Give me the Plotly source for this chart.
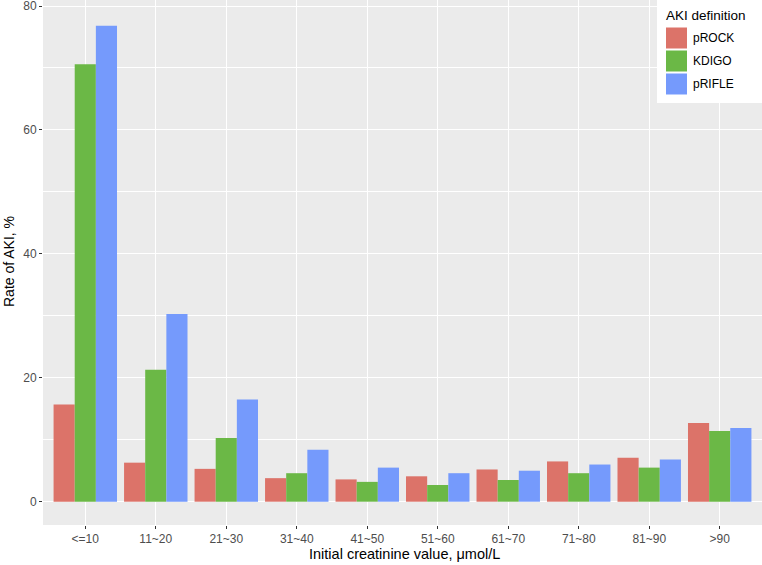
import plotly.graph_objects as go

categories = ["<=10", "11~20", "21~30", "31~40", "41~50", "51~60", "61~70", "71~80", "81~90", ">90"]
series_names = ["pROCK", "KDIGO", "pRIFLE"]
prock = [15.7, 6.3, 5.3, 3.8, 3.6, 4.1, 5.2, 6.5, 7.1, 12.7]
kdigo = [70.6, 21.3, 10.3, 4.6, 3.2, 2.7, 3.5, 4.6, 5.5, 11.4]
prifle = [76.8, 30.3, 16.5, 8.4, 5.5, 4.6, 5.0, 6.0, 6.8, 11.9]
colors = ["#DC7369", "#6BB846", "#759AFC"]
y_ticks = [0, 20, 40, 60, 80]

W, H = 762, 565
L, R, T, B = 43, 0, 0, 40
PW, PH = W - L - R, H - T - B

def px(x):
    return (x - L) / PW

def py(y):
    return (H - B - y) / PH

FONT = "Liberation Sans, Arial, Helvetica, sans-serif"

fig = go.Figure()
for name, vals, c in zip(series_names, [prock, kdigo, prifle], colors):
    fig.add_trace(go.Bar(x=categories, y=vals, name=name, marker=dict(color=c, line=dict(width=0)),
                         showlegend=False))

fig.update_layout(
    width=W, height=H,
    margin=dict(l=L, r=R, t=T, b=B),
    paper_bgcolor="white",
    plot_bgcolor="#EBEBEB",
    barmode="group", bargap=0.1, bargroupgap=0,
    font=dict(family=FONT, color="#4D4D4D", size=12),
    xaxis=dict(range=[-0.6, 9.6], showgrid=True, gridcolor="white", gridwidth=1.1,
               ticks="outside", ticklen=3, tickcolor="#333333", tickwidth=1,
               tickfont=dict(size=12, color="#4D4D4D"), zeroline=False, showline=False,
               automargin=False, ticklabeloverflow="allow"),
    yaxis=dict(range=[-3.76, 80.97], tickvals=y_ticks, showgrid=True, gridcolor="white", gridwidth=1.1,
               minor=dict(tickvals=[10, 30, 50, 70], showgrid=True, gridcolor="white", gridwidth=0.5),
               ticks="outside", ticklen=3, tickcolor="#333333", tickwidth=1,
               tickfont=dict(size=12, color="#4D4D4D"), zeroline=False, showline=False,
               automargin=False, ticklabeloverflow="allow"),
)

annotations = [
    dict(text="Initial creatinine value, \u03bcmol/L", x=px(L + PW / 2 + 2), y=py(554), xref="paper", yref="paper",
         showarrow=False, font=dict(size=14.5, color="black"), xanchor="center", yanchor="middle"),
    dict(text="Rate of AKI, %", x=px(9), y=py(262), xref="paper", yref="paper", textangle=-90,
         showarrow=False, font=dict(size=14, color="black"), xanchor="center", yanchor="middle"),
    dict(text="AKI definition", x=px(664), y=py(15), xref="paper", yref="paper",
         showarrow=False, font=dict(size=13.5, color="black"), xanchor="left", yanchor="middle"),
]
shapes = [
    dict(type="rect", xref="paper", yref="paper", x0=px(657), x1=px(762), y0=py(103), y1=py(0),
         fillcolor="white", line=dict(width=0), layer="above"),
]
key_tops = [27.5, 50.5, 73.5]
for name, c, top in zip(series_names, colors, key_tops):
    shapes.append(dict(type="rect", xref="paper", yref="paper", x0=px(666), x1=px(687),
                       y0=py(top + 21), y1=py(top), fillcolor=c, line=dict(width=0), layer="above"))
    annotations.append(dict(text=name, x=px(691), y=py(top + 10.5), xref="paper", yref="paper",
                            showarrow=False, font=dict(size=12, color="black"), xanchor="left", yanchor="middle"))

fig.update_layout(annotations=annotations, shapes=shapes)
fig.write_html("out.html", config=dict(displayModeBar=False),
               post_script="document.body.style.margin='0';document.body.style.overflow='hidden';")
